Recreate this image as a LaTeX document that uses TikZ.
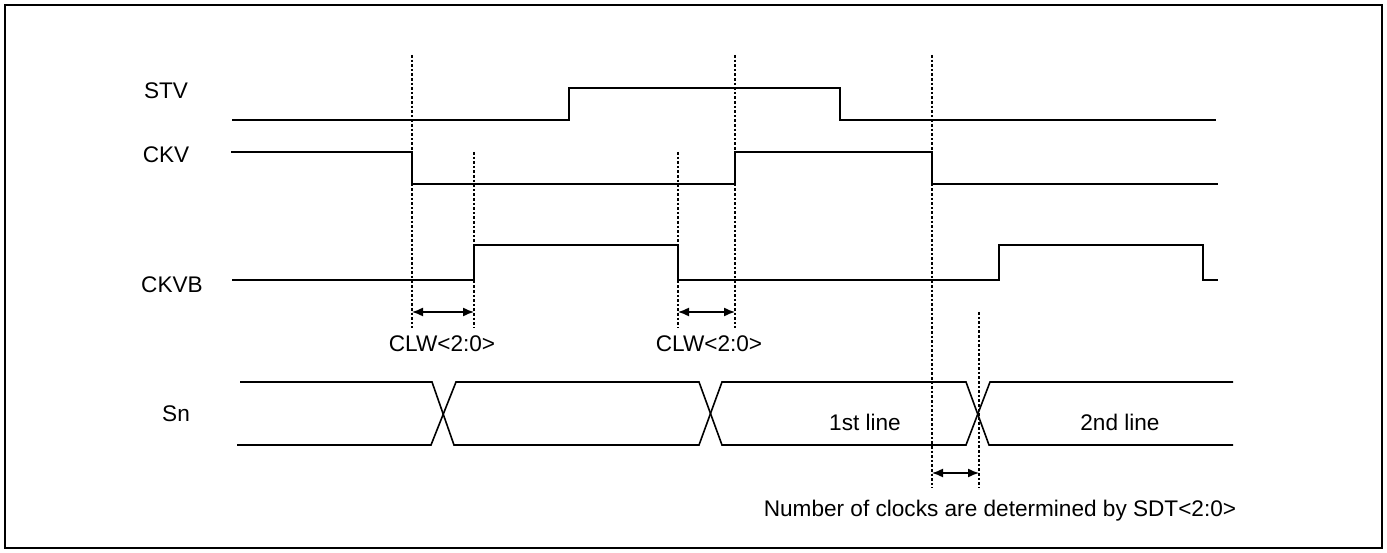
\documentclass[tikz,border=0pt]{standalone}
\usepackage{fontspec}
\setmainfont{Liberation Sans}
\usetikzlibrary{arrows.meta}
\begin{document}
\begin{tikzpicture}[x=1pt,y=-1pt,
  sig/.style={line width=1.6pt, line join=miter},
  guide/.style={line width=1.1pt, dash pattern=on 2.6pt off 2pt},
  dimarrow/.style={line width=1.4pt, {Latex[length=11pt,width=9pt]}-{Latex[length=11pt,width=9pt]}},
  lbl/.style={font=\fontsize{22.6}{27}\selectfont, inner sep=0pt, anchor=base}]
\useasboundingbox (0,0) rectangle (1387,553);
\draw[line width=2.6pt] (5,5) rectangle (1382,548);

% signal names
\node[lbl] (stv) at (166,99) {STV};
\node[lbl] (ckv) at (166,163) {CKV};
\node[lbl] (ckvb) at (172,293) {CKVB};
\node[lbl] (sn) at (176,421) {Sn};

% STV
\draw[sig] (232,120) -- (569,120) -- (569,88) -- (840,88) -- (840,120) -- (1216,120);
% CKV
\draw[sig] (231,152) -- (412,152) -- (412,184) -- (735,184) -- (735,152) -- (932,152) -- (932,184) -- (1218,184);
% CKVB
\draw[sig] (232,280) -- (474,280) -- (474,245) -- (678,245) -- (678,280) -- (999,280) -- (999,245) -- (1203,245) -- (1203,280) -- (1218,280);

% Sn bus
\draw[sig] (240,382) -- (432,382) -- (454,445) -- (699,445) -- (722,382) -- (966,382) -- (989,445) -- (1233,445);
\draw[sig] (237,445) -- (431,445) -- (456,382) -- (699,382) -- (722,445) -- (966,445) -- (990,382) -- (1233,382);

% guide coordinates
\coordinate (g1t) at (412,55);  \coordinate (g1b) at (412,328);
\coordinate (g2t) at (474,152); \coordinate (g2b) at (474,328);
\coordinate (g3t) at (678,152); \coordinate (g3b) at (678,328);
\coordinate (g4t) at (735,55);  \coordinate (g4b) at (735,328);
\coordinate (g5t) at (932,55);  \coordinate (g5b) at (932,488);
\coordinate (g6t) at (979,312); \coordinate (g6b) at (979,488);
\foreach \g in {1,...,6} \draw[guide] (g\g t) -- (g\g b);

% arrows
\coordinate (a1l) at (412,312); \coordinate (a1r) at (474,312);
\coordinate (a2l) at (678,312); \coordinate (a2r) at (735,312);
\coordinate (a3l) at (932,473); \coordinate (a3r) at (979,473);
\draw[dimarrow] (a1l) -- (a1r);
\draw[dimarrow] (a2l) -- (a2r);
\draw[dimarrow] (a3l) -- (a3r);

% labels
\node[lbl] (clw1) at (442,352) {CLW<2:0>};
\node[lbl] (clw2) at (709,352) {CLW<2:0>};
\node[lbl] (l1) at (865,430) {1st line};
\node[lbl] (l2) at (1120,430) {2nd line};
\node[lbl] (sdt) at (1000,516) {Number of clocks are determined by SDT<2:0>};
\end{tikzpicture}
\end{document}
